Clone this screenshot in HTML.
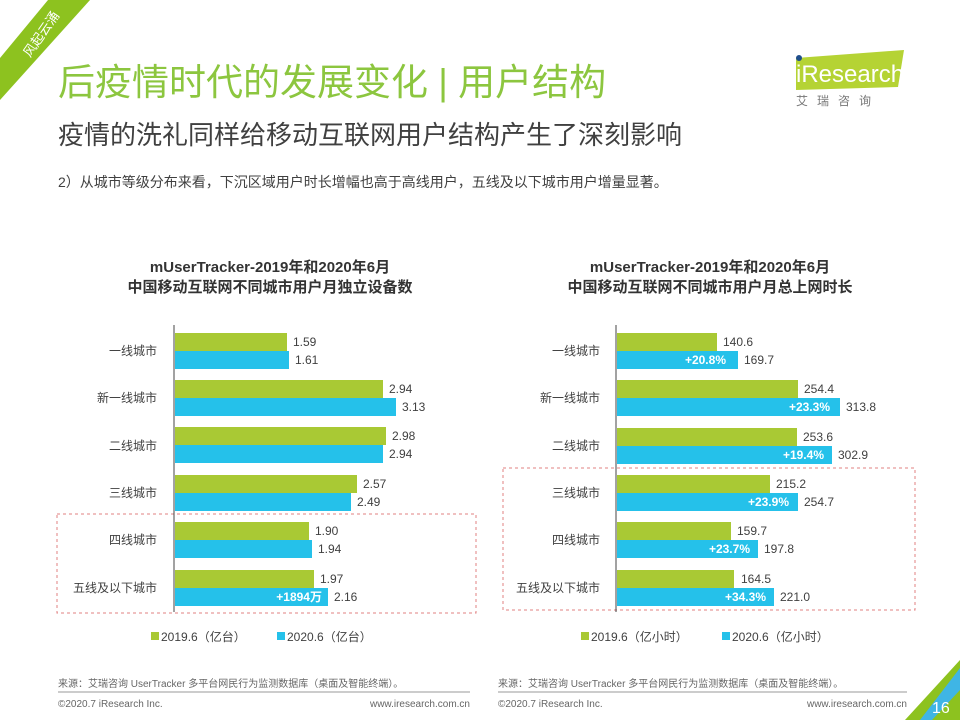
<!DOCTYPE html>
<html><head><meta charset="utf-8"><style>
body{margin:0;width:960px;height:720px;background:#fff;overflow:hidden;position:relative;font-family:"Liberation Sans","Noto Sans CJK SC",sans-serif;color:#404040}
.a{position:absolute;white-space:nowrap}
</style></head><body>
<svg class="a" style="left:0;top:0" width="960" height="720">
<polygon points="0,100 0,58 48,0 90,0" fill="#8dc21f"/>
<text x="30" y="58" fill="#fff" font-size="13" transform="rotate(-55 30 58)" font-family="Noto Sans CJK SC">风起云涌</text>
<polygon points="796,58 904,50 898,87 796,90" fill="#b5d334"/>
<circle cx="799" cy="58" r="3" fill="#1f4e8c"/>
<text x="796" y="82" font-size="24" fill="#fff" font-family="Liberation Sans">iResearch</text>
<text x="796" y="105" font-size="12" fill="#777" letter-spacing="9" font-family="Noto Sans CJK SC">艾瑞咨询</text>
<polygon points="960,660 960,720 905,720" fill="#8dc21f"/>
<polygon points="960,668 960,690 932,720 920,720" fill="#3fb5e5"/>
<text x="932" y="713" font-size="16" fill="#fff">16</text>
</svg>
<div class="a" style="left:58px;top:52px;font-size:37px;color:#8cc63f">后疫情时代的发展变化 | 用户结构</div>
<div class="a" style="left:58px;top:115px;font-size:26px;color:#404040">疫情的洗礼同样给移动互联网用户结构产生了深刻影响</div>
<div class="a" style="left:58px;top:172px;font-size:14px;color:#404040">2）从城市等级分布来看，下沉区域用户时长增幅也高于高线用户，五线及以下城市用户增量显著。</div>
<svg class="a" style="left:0;top:0" width="960" height="720" font-family="Liberation Sans, Noto Sans CJK SC, sans-serif">
<g font-weight="bold" font-size="15" fill="#333" text-anchor="middle">
<text x="270" y="272">mUserTracker-2019年和2020年6月</text>
<text x="270" y="292">中国移动互联网不同城市用户月独立设备数</text>
<text x="710" y="272">mUserTracker-2019年和2020年6月</text>
<text x="710" y="292">中国移动互联网不同城市用户月总上网时长</text>
</g>
<rect x="57" y="514" width="419" height="99" fill="none" stroke="#e08080" stroke-dasharray="3,3"/>
<rect x="503" y="468" width="412" height="142" fill="none" stroke="#e08080" stroke-dasharray="3,3"/>
<line x1="174" y1="325" x2="174" y2="612" stroke="#444"/>
<line x1="616" y1="325" x2="616" y2="612" stroke="#444"/>
<g font-size="12" fill="#404040">
<g text-anchor="end">
<text x="157" y="355">一线城市</text><text x="157" y="402">新一线城市</text><text x="157" y="450">二线城市</text><text x="157" y="497">三线城市</text><text x="157" y="544">四线城市</text><text x="157" y="592">五线及以下城市</text>
<text x="600" y="355">一线城市</text><text x="600" y="402">新一线城市</text><text x="600" y="450">二线城市</text><text x="600" y="497">三线城市</text><text x="600" y="544">四线城市</text><text x="600" y="592">五线及以下城市</text>
</g>
<rect x="175" y="333" width="112" height="18" fill="#a9c934"/><rect x="175" y="351" width="114" height="18" fill="#25c1ea"/>
<rect x="175" y="380" width="208" height="18" fill="#a9c934"/><rect x="175" y="398" width="221" height="18" fill="#25c1ea"/>
<rect x="175" y="427" width="211" height="18" fill="#a9c934"/><rect x="175" y="445" width="208" height="18" fill="#25c1ea"/>
<rect x="175" y="475" width="182" height="18" fill="#a9c934"/><rect x="175" y="493" width="176" height="18" fill="#25c1ea"/>
<rect x="175" y="522" width="134" height="18" fill="#a9c934"/><rect x="175" y="540" width="137" height="18" fill="#25c1ea"/>
<rect x="175" y="570" width="139" height="18" fill="#a9c934"/><rect x="175" y="588" width="153" height="18" fill="#25c1ea"/>
<text x="293" y="346">1.59</text><text x="295" y="364">1.61</text>
<text x="389" y="393">2.94</text><text x="402" y="411">3.13</text>
<text x="392" y="440">2.98</text><text x="389" y="458">2.94</text>
<text x="363" y="488">2.57</text><text x="357" y="506">2.49</text>
<text x="315" y="535">1.90</text><text x="318" y="553">1.94</text>
<text x="320" y="583">1.97</text><text x="334" y="601">2.16</text>
<text x="322" y="601" fill="#fff" font-weight="bold" text-anchor="end">+1894万</text>
<rect x="617" y="333" width="100" height="18" fill="#a9c934"/><rect x="617" y="351" width="121" height="18" fill="#25c1ea"/>
<rect x="617" y="380" width="181" height="18" fill="#a9c934"/><rect x="617" y="398" width="223" height="18" fill="#25c1ea"/>
<rect x="617" y="428" width="180" height="18" fill="#a9c934"/><rect x="617" y="446" width="215" height="18" fill="#25c1ea"/>
<rect x="617" y="475" width="153" height="18" fill="#a9c934"/><rect x="617" y="493" width="181" height="18" fill="#25c1ea"/>
<rect x="617" y="522" width="114" height="18" fill="#a9c934"/><rect x="617" y="540" width="141" height="18" fill="#25c1ea"/>
<rect x="617" y="570" width="117" height="18" fill="#a9c934"/><rect x="617" y="588" width="157" height="18" fill="#25c1ea"/>
<text x="723" y="346">140.6</text><text x="744" y="364">169.7</text>
<text x="804" y="393">254.4</text><text x="846" y="411">313.8</text>
<text x="803" y="441">253.6</text><text x="838" y="459">302.9</text>
<text x="776" y="488">215.2</text><text x="804" y="506">254.7</text>
<text x="737" y="535">159.7</text><text x="764" y="553">197.8</text>
<text x="741" y="583">164.5</text><text x="780" y="601">221.0</text>
<g fill="#fff" font-weight="bold" text-anchor="end">
<text x="726" y="364">+20.8%</text><text x="830" y="411">+23.3%</text><text x="824" y="459">+19.4%</text>
<text x="789" y="506">+23.9%</text><text x="750" y="553">+23.7%</text><text x="766" y="601">+34.3%</text>
</g>
<rect x="151" y="632" width="8" height="8" fill="#a9c934"/><text x="161" y="641">2019.6（亿台）</text>
<rect x="277" y="632" width="8" height="8" fill="#25c1ea"/><text x="287" y="641">2020.6（亿台）</text>
<rect x="581" y="632" width="8" height="8" fill="#a9c934"/><text x="591" y="641">2019.6（亿小时）</text>
<rect x="722" y="632" width="8" height="8" fill="#25c1ea"/><text x="732" y="641">2020.6（亿小时）</text>
</g>
<g font-size="10" fill="#666">
<text x="58" y="687">来源：艾瑞咨询 UserTracker 多平台网民行为监测数据库（桌面及智能终端）。</text>
<text x="498" y="687">来源：艾瑞咨询 UserTracker 多平台网民行为监测数据库（桌面及智能终端）。</text>
<line x1="58" y1="692" x2="470" y2="692" stroke="#999"/>
<line x1="498" y1="692" x2="907" y2="692" stroke="#999"/>
<text x="58" y="707">©2020.7 iResearch Inc.</text>
<text x="470" y="707" text-anchor="end">www.iresearch.com.cn</text>
<text x="498" y="707">©2020.7 iResearch Inc.</text>
<text x="907" y="707" text-anchor="end">www.iresearch.com.cn</text>
</g>
</svg>
</body></html>
